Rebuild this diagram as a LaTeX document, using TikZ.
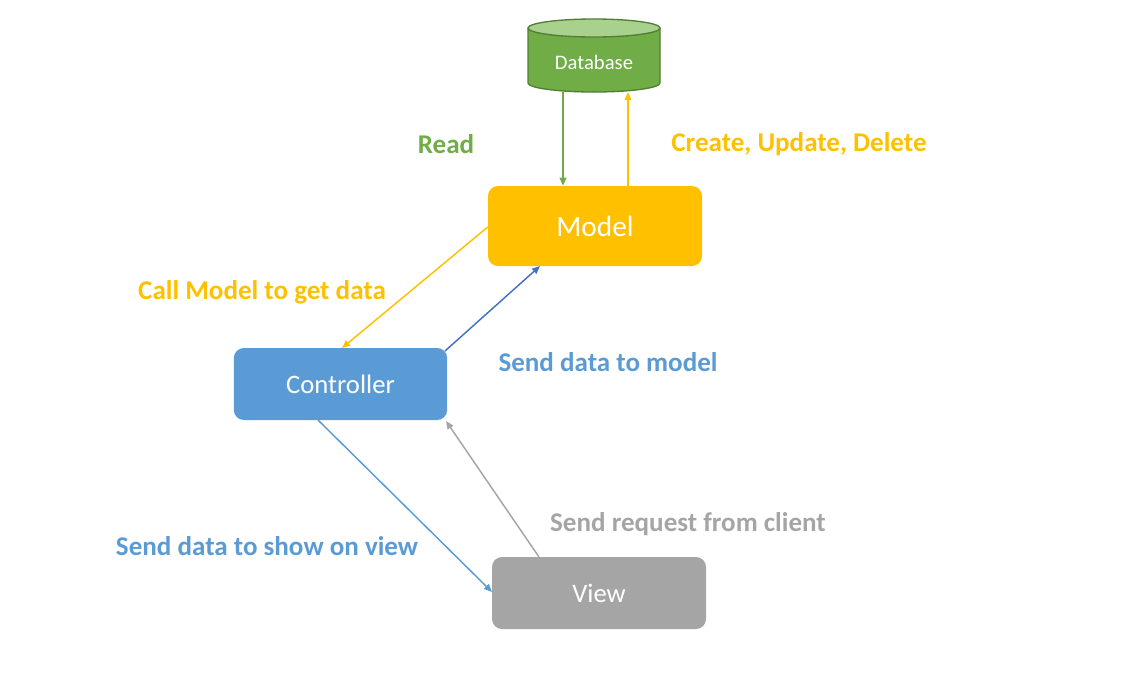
\documentclass[tikz,border=0pt]{standalone}
\usepackage{fontspec}
\setmainfont{Carlito}
\usetikzlibrary{arrows.meta,shapes.geometric}
\definecolor{cgreen}{HTML}{70AD47}
\definecolor{cgreenl}{HTML}{A9D18E}
\definecolor{cgreend}{HTML}{507E32}
\definecolor{cyellow}{HTML}{FFC000}
\definecolor{cblue}{HTML}{5B9BD5}
\definecolor{cdblue}{HTML}{4472C4}
\definecolor{cgray}{HTML}{A5A5A5}
\tikzset{
  box/.style={rectangle, rounded corners=7.5pt, text=white, inner sep=0pt, font=\fontsize{20}{24}\selectfont},
  lab/.style={font=\bfseries\fontsize{20.3}{24}\selectfont, inner sep=0pt},
  arr/.style={line width=1.1pt, -{Triangle[length=6pt,width=5pt]}},
}
\begin{document}
\begin{tikzpicture}[x=0.75pt,y=-0.75pt]
\useasboundingbox (0,0) rectangle (1123,676);
% Database cylinder
\fill[cgreen] (528,28) -- (528,83) arc[start angle=180,end angle=0,x radius=66,y radius=9] -- (660,28) -- cycle;
\draw[cgreend, line width=1pt] (528,28) -- (528,83) arc[start angle=180,end angle=0,x radius=66,y radius=9] -- (660,28);
\draw[cgreend, line width=1pt, fill=cgreenl] (594,28) ellipse[x radius=66, y radius=9];
\node[text=white, font=\fontsize{15.5}{18}\selectfont, inner sep=0pt] (db) at (594,62) {Database};
\coordinate (dbdown) at (563,92);
\coordinate (dbup) at (628,92);
% Boxes
\node[box, fill=cyellow, minimum width=160.5pt, minimum height=60pt, font=\fontsize{22}{26}\selectfont] (model) at (595,226) {Model};
\node[box, fill=cblue, minimum width=160pt, minimum height=54pt] (ctrl) at (340.5,384) {Controller};
\node[box, fill=cgray, minimum width=160.5pt, minimum height=54pt] (view) at (599,593) {View};
% Arrows
\draw[arr, cgreen] (dbdown) -- (dbdown |- model.north);
\draw[arr, cyellow] (dbup |- model.north) -- (dbup);
\draw[arr, cyellow] (model.west) ++(0,1) coordinate (m1) -- (342,348) coordinate (c1);
\draw[arr, cdblue] (445,351) coordinate (c2) -- (540,266) coordinate (m2);
\draw[arr, cblue] (318,420) coordinate (c3) -- (492,592) coordinate (v1);
\draw[arr, cgray] (539,557) coordinate (v2) -- (446,421) coordinate (c4);
% Labels
\node[lab, text=cgreen] (lread) at (446,144) {Read};
\node[lab, text=cyellow] (lcud) at (799,144) {Create, Update, Delete};
\node[lab, text=cyellow] (lcall) at (262,292) {Call Model to get data};
\node[lab, text=cblue] (lsend) at (608,362) {Send data to model};
\node[lab, text=cgray] (lreq) at (688,524) {Send request from client};
\node[lab, text=cblue] (lshow) at (267,546) {Send data to show on view};
\end{tikzpicture}
\end{document}
